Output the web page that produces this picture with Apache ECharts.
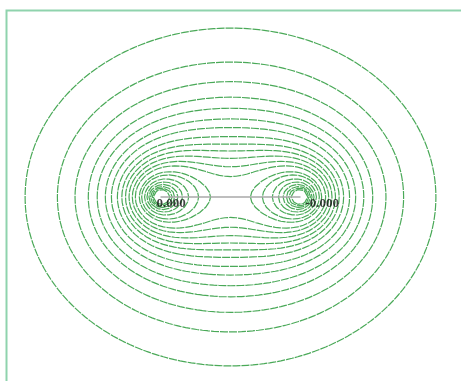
<!DOCTYPE html>
<html>
<head>
<meta charset="utf-8">
<style>
  html, body { margin: 0; padding: 0; background: #ffffff; }
  #chart { width: 461px; height: 381px; }
</style>
<script src="https://cdn.jsdelivr.net/npm/echarts@6/dist/echarts.min.js"></script>
</head>
<body>
<div id="chart"></div>
<script>
// Two point sources on the horizontal axis
const CHARGE_X = [-1, 1];
const CHARGE_Y = [0, 0];
const CHARGE_LABELS = ['0.000', '-0.000'];

// Field falloff exponent of each source (sum of r^p)
const FIELD_EXPONENT = 0.3;

// Contour levels, outermost first
const LEVELS = [2.727, 2.576, 2.482, 2.404, 2.347, 2.291, 2.246, 2.199, 2.161,
                2.128, 2.095, 2.061, 2.029, 1.982, 1.952, 1.911, 1.875, 1.840,
                1.810, 1.780, 1.750];

// Plot window (data units) and sampling step of the field grid
const X_RANGE = [-3.2, 3.2];
const Y_RANGE = [-2.8, 2.8];
const STEP = 0.08;

function field(x, y) {
  let v = 0;
  for (let i = 0; i < CHARGE_X.length; i++) {
    const dx = x - CHARGE_X[i], dy = y - CHARGE_Y[i];
    v += Math.pow(Math.sqrt(dx * dx + dy * dy), FIELD_EXPONENT);
  }
  return v;
}

// Sample the field on a regular grid
const nx = Math.round((X_RANGE[1] - X_RANGE[0]) / STEP);
const ny = Math.round((Y_RANGE[1] - Y_RANGE[0]) / STEP);
const gx = i => X_RANGE[0] + i * STEP;
const gy = j => Y_RANGE[0] + j * STEP;
const grid = [];
for (let j = 0; j <= ny; j++) {
  const row = [];
  for (let i = 0; i <= nx; i++) row.push(field(gx(i), gy(j)));
  grid.push(row);
}

// Marching squares, then chain the segments into polylines
function contour(level) {
  const pts = new Map();
  const adj = new Map();
  function edgePoint(key, i0, j0, i1, j1) {
    if (!pts.has(key)) {
      const a = grid[j0][i0], b = grid[j1][i1];
      const t = (level - a) / (b - a);
      pts.set(key, [gx(i0) + t * (gx(i1) - gx(i0)), gy(j0) + t * (gy(j1) - gy(j0))]);
    }
    return key;
  }
  function link(a, b) {
    if (!adj.has(a)) adj.set(a, []);
    if (!adj.has(b)) adj.set(b, []);
    adj.get(a).push(b);
    adj.get(b).push(a);
  }
  for (let j = 0; j < ny; j++) {
    for (let i = 0; i < nx; i++) {
      const v0 = grid[j][i], v1 = grid[j][i + 1], v2 = grid[j + 1][i + 1], v3 = grid[j + 1][i];
      const s0 = v0 < level, s1 = v1 < level, s2 = v2 < level, s3 = v3 < level;
      const e = [];
      if (s0 !== s1) e[0] = edgePoint('h' + i + ',' + j, i, j, i + 1, j);
      if (s1 !== s2) e[1] = edgePoint('v' + (i + 1) + ',' + j, i + 1, j, i + 1, j + 1);
      if (s3 !== s2) e[2] = edgePoint('h' + i + ',' + (j + 1), i, j + 1, i + 1, j + 1);
      if (s0 !== s3) e[3] = edgePoint('v' + i + ',' + j, i, j, i, j + 1);
      const idx = [0, 1, 2, 3].filter(k => e[k] !== undefined);
      if (idx.length === 2) {
        link(e[idx[0]], e[idx[1]]);
      } else if (idx.length === 4) {
        const sc = (v0 + v1 + v2 + v3) / 4 < level;
        if (sc === s0) { link(e[0], e[1]); link(e[2], e[3]); }
        else { link(e[0], e[3]); link(e[1], e[2]); }
      }
    }
  }
  const visited = new Set();
  const lines = [];
  function walk(start, closed) {
    const coords = [];
    let prev = null, cur = start;
    while (cur !== undefined) {
      coords.push(pts.get(cur));
      visited.add(cur);
      const nb = adj.get(cur).find(n => n !== prev && !visited.has(n));
      prev = cur;
      cur = nb;
    }
    if (closed) coords.push(pts.get(start));
    if (coords.length > 1) lines.push(coords);
  }
  for (const [k, n] of adj) if (n.length === 1 && !visited.has(k)) walk(k, false);
  for (const k of adj.keys()) if (!visited.has(k)) walk(k, true);
  return lines;
}

const contourData = [];
LEVELS.forEach(level => {
  contour(level).forEach(coords => contourData.push({ coords: coords }));
});

const chart = echarts.init(document.getElementById('chart'), null, { renderer: 'canvas' });
chart.setOption({
  animation: false,
  backgroundColor: '#ffffff',
  grid: { left: 6.5, top: 17, width: 448, height: 360 },
  xAxis: { type: 'value', min: X_RANGE[0], max: X_RANGE[1], show: false },
  yAxis: { type: 'value', min: Y_RANGE[0], max: Y_RANGE[1], show: false },
  graphic: [{
    type: 'rect',
    shape: { x: 6.5, y: 10.5, width: 600, height: 600 },
    style: { fill: 'none', stroke: '#8fd3ad', lineWidth: 2 },
    silent: true
  }],
  series: [
    {
      type: 'lines',
      coordinateSystem: 'cartesian2d',
      polyline: true,
      silent: true,
      lineStyle: { color: '#4aa958', width: 1.2, opacity: 1, type: [8, 1] },
      data: contourData,
      z: 2
    },
    {
      type: 'lines',
      coordinateSystem: 'cartesian2d',
      polyline: true,
      silent: true,
      lineStyle: { color: '#a8a8a8', width: 1.5, opacity: 1 },
      data: [{ coords: CHARGE_X.map((x, i) => [x, CHARGE_Y[i]]) }],
      z: 3
    },
    {
      type: 'scatter',
      silent: true,
      symbolSize: 0,
      data: CHARGE_X.map((x, i) => ({
        value: [x, CHARGE_Y[i]],
        label: { offset: i === 0 ? [-4, 7] : [5, 7] }
      })),
      label: {
        show: true,
        position: 'right',
        distance: 0,
        formatter: p => CHARGE_LABELS[p.dataIndex],
        fontFamily: 'Liberation Serif',
        fontWeight: 'bold',
        fontSize: 13,
        color: '#111111'
      },
      z: 4
    }
  ]
});
</script>
</body>
</html>
